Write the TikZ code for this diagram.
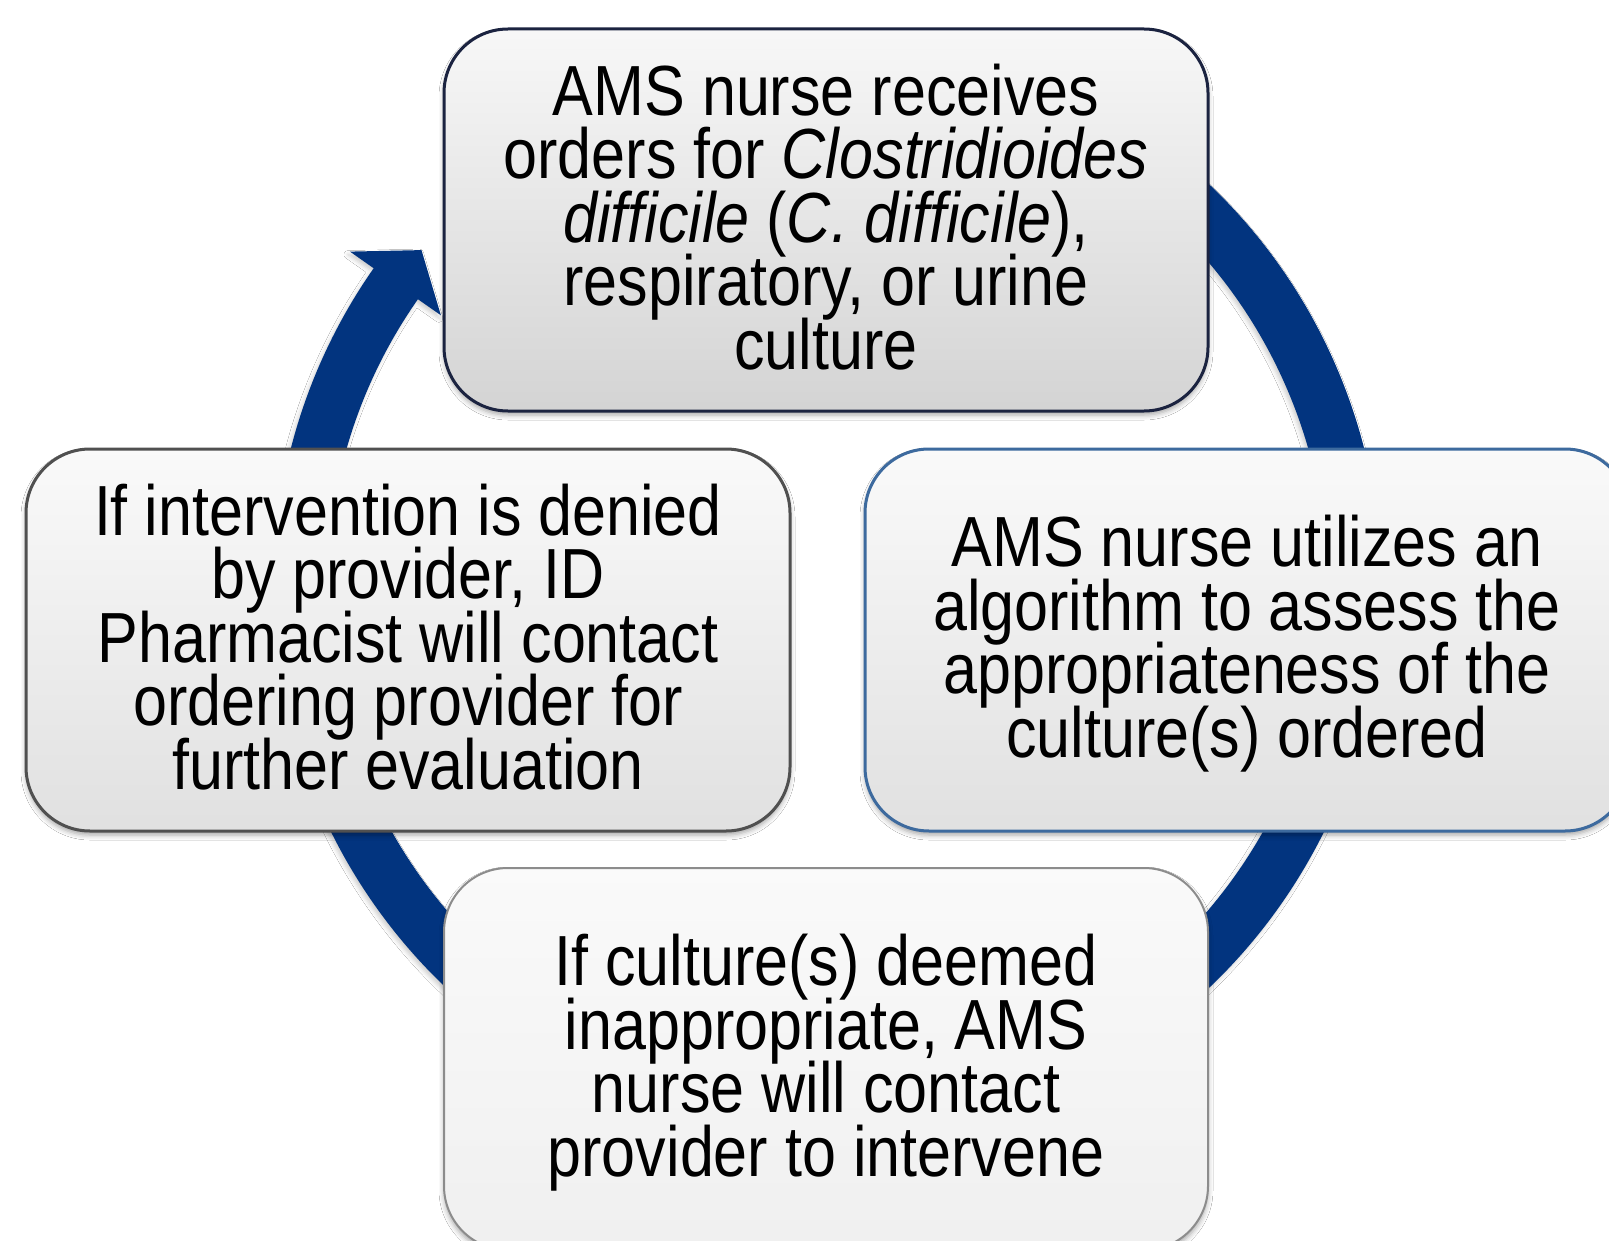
\documentclass[tikz,border=0pt]{standalone}
\usepackage{fontspec}
\setmainfont[FakeStretch=0.86]{Liberation Sans}
\usetikzlibrary{shadows.blur}

\definecolor{ringblue}{HTML}{02347F}
\definecolor{edgenavy}{HTML}{1B2340}
\definecolor{edgesteel}{HTML}{3D6A9E}
\definecolor{edgedark}{HTML}{505050}
\definecolor{edgegrey}{HTML}{8C8C8C}

% step text: fixed baseline distance, even for lines with descenders
\newcommand\stepfont{\fontsize{71}{63.5}\selectfont\lineskiplimit=-1000pt\relax\lineskip=0pt\relax}

\begin{document}
\begin{tikzpicture}[x=1pt,y=-1pt,
  cyclebox/.style={rounded corners=64pt, minimum width=764pt, minimum height=382pt,
    align=center, inner sep=0pt, font=\stepfont, text depth=7pt, line width=3pt,
    blur shadow={shadow xshift=0pt, shadow yshift=-4pt, shadow opacity=35, shadow blur radius=5pt}},
  ringshape/.style={fill=ringblue,
    blur shadow={shadow xshift=-2pt, shadow yshift=-3pt, shadow opacity=20, shadow blur radius=4pt}}
  ]
\useasboundingbox (0,0) rectangle (1609,1241);
\fill[white] (0,0) rectangle (1609,1241);

% circular arrow running clockwise behind the four steps
\coordinate (C) at (827.5,586);
\fill[ringshape]
  ([shift={(C)}]-60:554) arc[start angle=-60, end angle=215, radius=554]
  -- ([shift={(C)}]215:583)
  -- ([shift={(C)}]219.6:527)
  -- ([shift={(C)}]215:472)
  -- ([shift={(C)}]215:500) arc[start angle=215, end angle=-60, radius=500]
  -- cycle;

% the four steps of the cycle
\node[cyclebox, draw=edgenavy, top color=black!3, bottom color=black!17] (receive) at (826,220)
  {AMS nurse receives\\orders for \textit{Clostridioides}\\\textit{difficile} (\textit{C. difficile}),\\respiratory, or urine\\culture};
\node[cyclebox, draw=edgesteel, top color=black!2, bottom color=black!12] (assess) at (1247,640)
  {AMS nurse utilizes an\\algorithm to assess the\\appropriateness of the\\culture(s) ordered};
\node[cyclebox, draw=edgegrey, line width=2pt, top color=black!2, bottom color=black!6] (intervene) at (826,1059)
  {If culture(s) deemed\\inappropriate, AMS\\nurse will contact\\provider to intervene};
\node[cyclebox, draw=edgedark, top color=black!2, bottom color=black!12] (escalate) at (408,640)
  {If intervention is denied\\by provider, ID\\Pharmacist will contact\\ordering provider for\\further evaluation};
\end{tikzpicture}
\end{document}
